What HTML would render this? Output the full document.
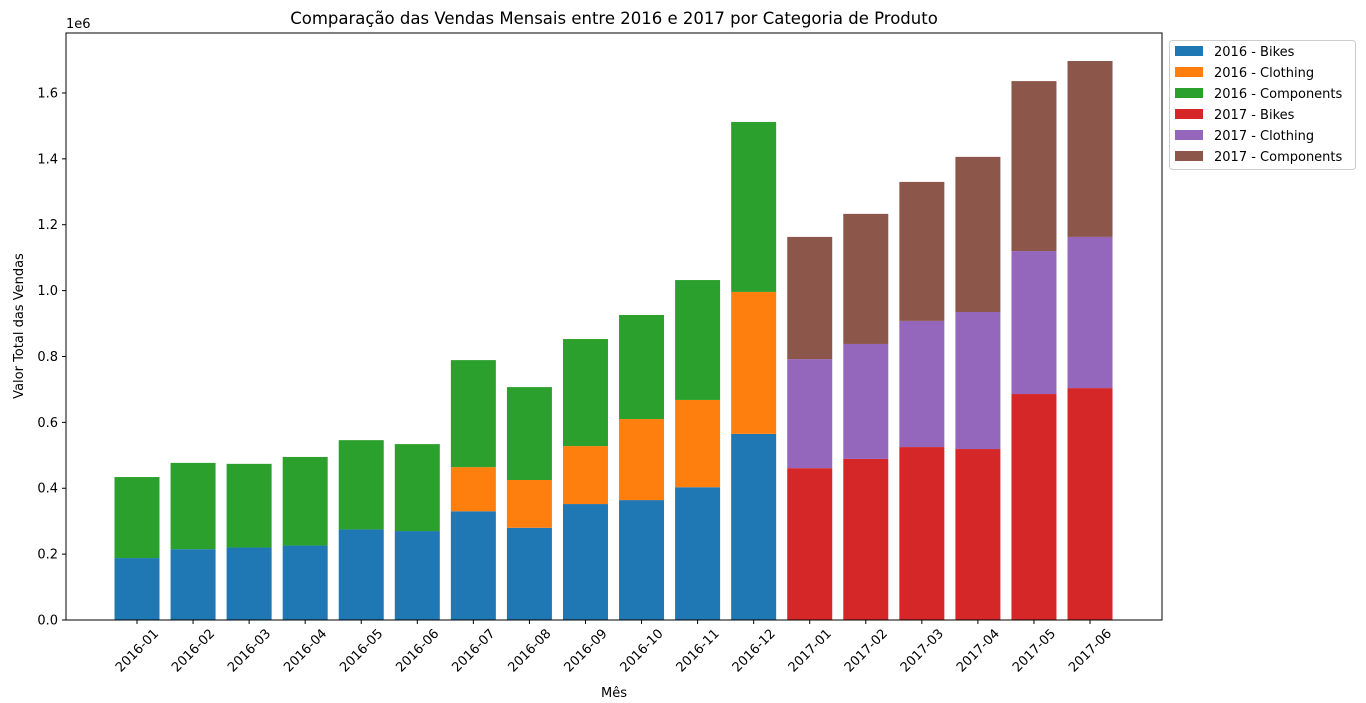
<!DOCTYPE html>
<html><head><meta charset="utf-8">
<style>
html,body{margin:0;padding:0;background:#fff;}
svg{display:block;font-family:"DejaVu Sans","Liberation Sans",sans-serif;}
</style></head>
<body>
<svg id="chart" width="1366" height="703" viewBox="0 0 1366 703">
<text x="614" y="24" font-size="16.5" text-anchor="middle" fill="#000">Comparação das Vendas Mensais entre 2016 e 2017 por Categoria de Produto</text>
<g id="plot"></g>
<text x="66" y="28" font-size="13" fill="#000">1e6</text>
<text x="614" y="697" font-size="13" text-anchor="middle">Mês</text>
<text transform="translate(23,326) rotate(-90)" font-size="13" text-anchor="middle">Valor Total das Vendas</text>
<g id="legend"></g>
</svg>
<script>
const months = ["2016-01","2016-02","2016-03","2016-04","2016-05","2016-06","2016-07","2016-08","2016-09","2016-10","2016-11","2016-12","2017-01","2017-02","2017-03","2017-04","2017-05","2017-06"];
const bikes2016 = [0.188,0.215,0.220,0.226,0.275,0.270,0.330,0.280,0.352,0.364,0.403,0.565];
const clothing2016 = [0,0,0,0,0,0,0.134,0.145,0.176,0.246,0.265,0.431];
const components2016 = [0.246,0.262,0.254,0.269,0.271,0.264,0.325,0.282,0.325,0.316,0.364,0.516];
const bikes2017 = [0.461,0.489,0.525,0.519,0.686,0.704];
const clothing2017 = [0.331,0.349,0.383,0.416,0.434,0.459];
const components2017 = [0.371,0.395,0.422,0.471,0.516,0.534];
const yTicks = [0,0.2,0.4,0.6,0.8,1.0,1.2,1.4,1.6];
const seriesNames = ["2016 - Bikes","2016 - Clothing","2016 - Components","2017 - Bikes","2017 - Clothing","2017 - Components"];
const colors = ["#1f77b4","#ff7f0e","#2ca02c","#d62728","#9467bd","#8c564b"];

const NS="http://www.w3.org/2000/svg";
const L=66,R=1162,T=33,B=620;
const pxPerUnit=329.4;
const y=v=>B-v*pxPerUnit;
const step=56.06, x0=137;
const x=i=>x0+i*step;
const bw=45;
const plot=document.getElementById('plot');
function mk(tag,attrs,parent){const e=document.createElementNS(NS,tag);for(const k in attrs)e.setAttribute(k,attrs[k]);parent.appendChild(e);return e;}

function stack(list, offset, sIdx){
  for(let i=0;i<list[0].length;i++){
    let base=0;
    list.forEach((arr,k)=>{
      const v=arr[i];
      if(v>0){
        const r=mk('rect',{x:x(i+offset)-bw/2,y:y(base+v),width:bw,height:y(base)-y(base+v),fill:colors[sIdx+k]},plot);
        
        
      }
      base+=v;
    });
  }
}
stack([bikes2016,clothing2016,components2016],0,0);
stack([bikes2017,clothing2017,components2017],12,3);

const fr=mk('rect',{x:L,y:T,width:R-L,height:B-T,fill:'none',stroke:'#000','stroke-width':1},plot);



yTicks.forEach(t=>{
  mk('line',{x1:L-4,x2:L,y1:y(t),y2:y(t),stroke:'#000'},plot);
  const tx=mk('text',{x:L-8,y:y(t)+4.5,'font-size':13,'text-anchor':'end'},plot);
  tx.textContent=t.toFixed(1);
  
  
});
months.forEach((m,i)=>{
  mk('line',{x1:x(i),x2:x(i),y1:B,y2:B+4,stroke:'#000'},plot);
  const tx=mk('text',{transform:`translate(${x(i)+16},${B+8}) rotate(-45)`,'font-size':13,'text-anchor':'end','dominant-baseline':'hanging'},plot);
  tx.textContent=m;
  
  
});

const lg=document.getElementById('legend');


mk('rect',{x:1169.5,y:40.5,width:186,height:129,rx:3,fill:'#fff',stroke:'#ccc'},lg);
seriesNames.forEach((n,k)=>{
  const cy=51+k*21;
  mk('rect',{x:1175,y:cy-5,width:28,height:10,fill:colors[k]},lg);
  const t=mk('text',{x:1214,y:cy+5,'font-size':13},lg);
  t.textContent=n;
  
  
});
</script>
</body></html>
